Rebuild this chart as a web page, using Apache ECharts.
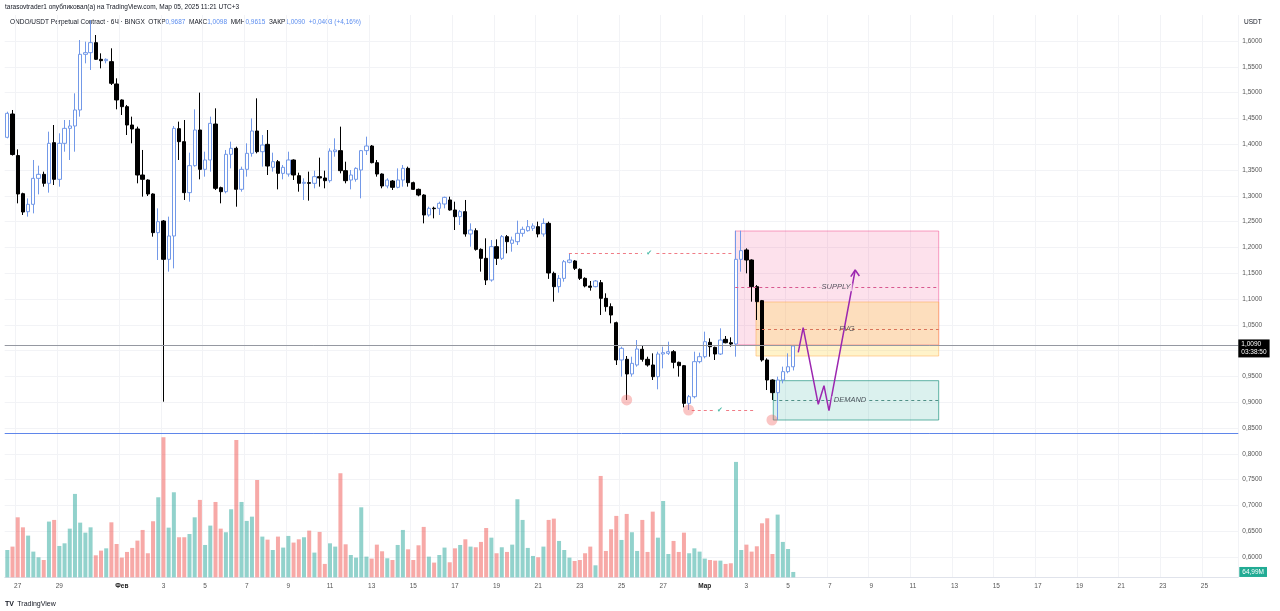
<!DOCTYPE html>
<html><head><meta charset="utf-8">
<script src="https://cdn.jsdelivr.net/npm/echarts@6/dist/echarts.min.js"></script>
<style>html,body{margin:0;padding:0;background:#fff}#c{width:1280px;height:611px}</style>
</head><body><div id="c"></div>
<script>
// 6-hour candles, first candle 2025-01-26 12:00
const slotCount = 237;
const startTime = Date.UTC(2025, 0, 26, 12);
const categories = [];
for (let k = 0; k < slotCount; k++) {
  categories.push(new Date(startTime + k * 6 * 3600e3).toISOString().slice(0, 16).replace('T', ' '));
}
const opens = [1.4133,1.4585,1.3780,1.3041,1.2692,1.2835,1.3338,1.3416,1.3242,1.4030,
1.3319,1.4017,1.4307,1.4353,1.4663,1.5742,1.5774,1.5968,1.5645,1.5619,
1.5600,1.5167,1.4857,1.4727,1.4372,1.4295,1.3403,1.3306,1.3035,1.2286,
1.2512,1.1769,1.2221,1.4301,1.4049,1.3061,1.3584,1.4275,1.3513,1.3694,
1.4391,1.3158,1.3080,1.3804,1.3920,1.3126,1.3513,1.3823,1.4256,1.3855,
1.3997,1.3552,1.3661,1.3435,1.3422,1.3694,1.3390,1.3242,1.3255,1.3242,
1.3371,1.3345,1.3293,1.3855,1.3875,1.3487,1.3306,1.3319,1.3500,1.3875,
1.3965,1.3642,1.3422,1.3190,1.3287,1.3164,1.3306,1.3532,1.3255,1.3125,
1.3015,1.2628,1.2760,1.2757,1.2841,1.2919,1.2725,1.2596,1.2693,1.2260,
1.2324,1.1962,1.1788,1.1368,1.2014,1.1788,1.2208,1.2079,1.2111,1.2273,
1.2324,1.2370,1.2402,1.2260,1.2466,1.1497,1.1239,1.1400,1.1711,1.1737,
1.1575,1.1400,1.1252,1.1239,1.1317,1.1013,1.0852,1.0541,0.9818,0.9831,
0.9547,0.9721,1.0025,0.9831,0.9721,0.9495,0.9934,0.9947,0.9979,0.9773,
0.9708,0.8978,0.9107,0.9786,0.9882,1.0160,1.0063,0.9934,1.0218,1.0153,
1.0128,1.1769,1.1950,1.1756,1.1239,1.0968,0.9818,0.9430,0.9185,0.9430,
0.9592,0.9687];
const closes = [1.4598,1.3800,1.3035,1.2686,1.2835,1.3338,1.3416,1.3242,1.4017,1.3319,
1.4017,1.4307,1.4353,1.4663,1.5742,1.5774,1.5968,1.5645,1.5619,1.5645,
1.5180,1.4857,1.4727,1.4372,1.4295,1.3403,1.3319,1.3035,1.2286,1.2499,
1.1769,1.2221,1.4307,1.4049,1.3061,1.3584,1.4275,1.3513,1.3694,1.4404,
1.3145,1.3080,1.3804,1.3920,1.3126,1.3513,1.3823,1.4256,1.3855,1.3984,
1.3577,1.3661,1.3435,1.3552,1.3694,1.3403,1.3242,1.3261,1.3242,1.3371,
1.3345,1.3293,1.3868,1.3888,1.3487,1.3293,1.3403,1.3532,1.3875,1.3965,
1.3642,1.3422,1.3190,1.3306,1.3164,1.3306,1.3532,1.3255,1.3125,1.3015,
1.2628,1.2757,1.2750,1.2854,1.2970,1.2725,1.2596,1.2693,1.2260,1.2337,
1.1962,1.1788,1.1368,1.2014,1.1788,1.2208,1.2111,1.2143,1.2273,1.2350,
1.2402,1.2415,1.2260,1.2466,1.1504,1.1239,1.1400,1.1723,1.1756,1.1595,
1.1400,1.1252,1.1226,1.1349,1.1013,1.0852,1.0690,0.9818,1.0044,0.9547,
0.9753,1.0031,0.9831,0.9721,0.9495,0.9934,0.9960,0.9979,0.9773,0.9708,
0.8978,0.9107,0.9786,0.9882,1.0173,1.0076,0.9934,1.0205,1.0153,1.0128,
1.1769,1.1937,1.1756,1.1239,1.0948,0.9818,0.9430,0.9185,0.9430,0.9592,
0.9687,1.0090];
const highs = [1.4630,1.4663,1.3900,1.3060,1.2950,1.3694,1.3584,1.3468,1.4243,1.4372,
1.4211,1.4469,1.4469,1.4986,1.6019,1.5987,1.6400,1.6116,1.5761,1.5664,
1.5858,1.5277,1.4870,1.4760,1.4534,1.4340,1.3888,1.3319,1.3048,1.2757,
1.2531,1.2596,1.4353,1.4437,1.4469,1.3836,1.4676,1.4999,1.3855,1.4534,
1.4695,1.3177,1.3888,1.4049,1.3952,1.3565,1.4017,1.4501,1.4889,1.4178,
1.4275,1.3836,1.3694,1.3597,1.3855,1.3707,1.3448,1.3339,1.3468,1.3487,
1.3739,1.3487,1.3920,1.4114,1.4340,1.3661,1.3500,1.3552,1.3888,1.4146,
1.3984,1.3694,1.3435,1.3339,1.3306,1.3532,1.3597,1.3565,1.3274,1.3140,
1.3030,1.2789,1.2789,1.2886,1.2983,1.2983,1.2886,1.2725,1.2919,1.2466,
1.2370,1.1982,1.2176,1.2143,1.2156,1.2240,1.2240,1.2208,1.2518,1.2402,
1.2531,1.2466,1.2499,1.2563,1.2499,1.1530,1.1465,1.1756,1.1885,1.1756,
1.1594,1.1420,1.1349,1.1368,1.1368,1.1110,1.0916,1.0561,1.0076,0.9895,
0.9882,1.0205,1.0108,0.9882,0.9947,0.9979,1.0076,1.0173,1.0011,0.9786,
0.9721,0.9140,0.9979,0.9960,1.0367,1.0238,1.0076,1.0432,1.0283,1.0257,
1.2324,1.2324,1.1982,1.1769,1.1271,1.0981,0.9850,0.9443,0.9495,0.9689,
0.9947,1.0098];
const lows = [1.4114,1.3780,1.2854,1.2628,1.2596,1.2660,1.3028,1.3177,1.3061,1.3209,
1.3177,1.3855,1.3694,1.3855,1.4534,1.5567,1.5438,1.5632,1.5470,1.5567,
1.5147,1.4676,1.4566,1.4178,1.4017,1.3242,1.2983,1.2996,1.2208,1.1756,
0.9010,1.1530,1.1594,1.3694,1.2919,1.2886,1.3565,1.3319,1.3371,1.3468,
1.3112,1.2854,1.3048,1.3532,1.2789,1.3080,1.3371,1.3759,1.3823,1.3565,
1.3403,1.3468,1.3125,1.3319,1.3371,1.3306,1.3080,1.2919,1.2906,1.3145,
1.3177,1.3145,1.3255,1.3758,1.3435,1.3242,1.3125,1.3274,1.2951,1.3791,
1.3629,1.3371,1.3145,1.3145,1.3113,1.3145,1.3177,1.3177,1.3113,1.2990,
1.2466,1.2596,1.2563,1.2628,1.2757,1.2712,1.2337,1.2434,1.2208,1.2014,
1.1937,1.1530,1.1271,1.1336,1.1659,1.1756,1.1885,1.1917,1.2046,1.2208,
1.2305,1.2320,1.2195,1.2208,1.1390,1.0948,1.1123,1.1336,1.1692,1.1562,
1.1368,1.1226,1.1162,1.1226,1.0690,1.0755,1.0528,0.9721,0.9495,0.9043,
0.9495,0.9689,0.9786,0.9689,0.9430,0.9250,0.9656,0.9915,0.9656,0.9495,
0.8900,0.8849,0.9075,0.9753,0.9850,0.9882,0.9818,0.9915,1.0141,1.0076,
0.9882,1.1530,1.1498,1.0948,1.0593,0.9786,0.9236,0.9043,0.8655,0.9365,
0.9560,0.9615];
// volume, millions
const volumes = [333,374,731,609,508,313,244,211,679,699,
382,414,593,1016,666,544,609,268,325,353,
670,406,240,309,358,447,577,293,683,975,
1706,605,1036,488,488,528,731,943,394,630,
918,593,549,829,1674,918,687,739,1186,496,
459,333,496,362,504,423,463,488,569,301,
553,163,414,374,1268,402,272,240,853,252,
228,398,317,232,211,394,577,341,211,390,
614,252,179,272,362,183,353,394,463,374,
366,431,601,483,293,366,309,398,951,699,
358,260,244,374,699,715,443,333,240,199,
211,293,374,146,1235,321,585,748,455,772,
549,321,699,309,800,483,930,284,443,309,
544,293,353,313,228,211,203,203,163,171,
1406,333,398,313,378,658,719,284,764,431,
345,65];
const tickDates = ['2025-01-27','2025-01-29','2025-02-01','2025-02-03','2025-02-05','2025-02-07','2025-02-09','2025-02-11','2025-02-13','2025-02-15','2025-02-17','2025-02-19','2025-02-21','2025-02-23','2025-02-25','2025-02-27','2025-03-01','2025-03-03','2025-03-05','2025-03-07','2025-03-09','2025-03-11','2025-03-13','2025-03-15','2025-03-17','2025-03-19','2025-03-21','2025-03-23','2025-03-25'];
const tickLabels = ['27','29','Фев','3','5','7','9','11','13','15','17','19','21','23','25','27','Мар','3','5','7','9','11','13','15','17','19','21','23','25'];
const monthLabels = ['Фев','Мар'];
// annotations (x in 6h-slot units, y in price)
const supplyBox = [[139.86, 1.2318], [178.94, 1.0110]];
const fvgBox = [[143.84, 1.0942], [178.94, 0.9895]];
const demandBox = [[147.16, 0.9417], [178.94, 0.8655]];
const supplyMid = 1.1227, fvgMid = 1.0419, demandMid = 0.9037;
const projPath = [[151.96, 0.9967], [152.9, 1.0444], [155.8, 0.8959], [156.9, 0.9320], [157.86, 0.8835], [162.9, 1.1562]];
const arrowHead = [[162.05, 1.1432], [162.9, 1.1562], [163.7, 1.1446]];
const lowMarks = [[119.0, 0.9043], [130.9, 0.8849], [146.9, 0.8655]];
const sweepHigh = {y: 1.1886, from: 107.9, to: 139.4, check: 123.3};
const sweepLow = {y: 0.8849, from: 131.5, to: 143.6, check: 136.9};
const lastPrice = 1.0090, horizLevel = 0.8405;
const lastVolumeText = '64,99M';

const tickMap = {};
tickDates.forEach((d, i) => { tickMap[d + ' 00:00'] = tickLabels[i]; });
const isTick = (i, v) => Object.prototype.hasOwnProperty.call(tickMap, v);
const fmt = v => v.toFixed(4).replace('.', ',');
const ohlc = opens.map((o, i) => [o, closes[i], lows[i], highs[i]]);
const volData = volumes.map((v, i) => ({value: v, itemStyle: {color: closes[i] >= opens[i] ? 'rgba(38,166,154,0.5)' : 'rgba(239,83,80,0.5)'}}));
const FONT = 'Liberation Sans, Arial, DejaVu Sans, sans-serif';

const dash = (x1, x2, y, color) => [{coord: [x1, y], lineStyle: {color: color, type: [3, 3], width: 1}}, {coord: [x2, y]}];

const chart = echarts.init(document.getElementById('c'), null, {renderer: 'canvas'});
chart.setOption({
  animation: false,
  backgroundColor: '#ffffff',
  textStyle: {fontFamily: FONT},
  grid: [
    {left: 4.7, right: 41.7, top: 41, bottom: 54},
    {left: 4.7, right: 41.7, top: 15, bottom: 33.7}
  ],
  xAxis: [
    {type: 'category', gridIndex: 0, data: categories, show: false},
    {type: 'category', gridIndex: 1, data: categories,
      axisLine: {show: true, lineStyle: {color: '#e0e3eb'}}, axisTick: {show: false},
      axisLabel: {interval: isTick, fontSize: 6.5, color: '#555', margin: 5,
        formatter: v => { const t = tickMap[v] || ''; return monthLabels.indexOf(t) >= 0 ? '{b|' + t + '}' : t; },
        rich: {b: {fontWeight: 'bold', fontSize: 6.5, color: '#222'}}},
      splitLine: {show: true, interval: isTick, lineStyle: {color: '#f2f3f6', width: 1}}},
    {type: 'value', gridIndex: 0, min: -0.5, max: slotCount - 0.5, show: false}
  ],
  yAxis: [
    {type: 'value', gridIndex: 0, position: 'right', min: 0.6, max: 1.6, interval: 0.05,
      axisLine: {show: false}, axisTick: {show: false},
      axisLabel: {formatter: fmt, fontSize: 6.5, color: '#555', margin: 4},
      splitLine: {lineStyle: {color: '#f2f3f6', width: 1}}},
    {type: 'value', gridIndex: 1, min: 0, max: 6852, show: false}
  ],
  graphic: [
    {type: 'text', left: 5, top: 4, style: {text: 'tarasovtrader1 опубликовал(а) на TradingView.com, Мар 05, 2025 11:21 UTC+3', fill: '#131722', font: '6.5px ' + FONT}},
    {type: 'text', left: 10, top: 18.5, style: {
      text: '{a|ONDO/USDT Perpetual Contract · 6Ч · BINGX}  {a|ОТКР}{b|0,9687}  {a|МАКС}{b|1,0098}  {a|МИН}{b|0,9615}  {a|ЗАКР}{b|1,0090}  {b|+0,0403 (+4,16%)}',
      font: '6.5px ' + FONT,
      rich: {a: {fill: '#131722', fontSize: 6.5, fontFamily: FONT}, b: {fill: '#5b8def', fontSize: 6.5, fontFamily: FONT}}}},
    {type: 'text', left: 1244, top: 18.5, style: {text: 'USDT', fill: '#131722', font: '6.5px ' + FONT}},
    {type: 'text', left: 5, top: 598, style: {text: '{t|TV} {n|TradingView}', rich: {t: {fill: '#131722', fontWeight: 'bold', fontSize: 7, fontFamily: FONT}, n: {fill: '#131722', fontSize: 7, fontFamily: FONT}}}}
  ],
  series: [
    {type: 'bar', name: 'volume', xAxisIndex: 1, yAxisIndex: 1, data: volData, barWidth: 4, z: 1, silent: true,
      markLine: {symbol: 'none', silent: true, data: [{yAxis: volumes[volumes.length - 1], lineStyle: {color: 'rgba(0,0,0,0)', width: 0},
        label: {show: true, position: 'end', distance: 1, formatter: lastVolumeText, backgroundColor: '#22ab94', color: '#ffffff', fontSize: 6.5, padding: [1.5, 3]}}]}},
    {type: 'candlestick', name: 'ONDO', xAxisIndex: 0, yAxisIndex: 0, data: ohlc, barWidth: 3.8, clip: false, z: 3,
      itemStyle: {color: '#ffffff', color0: '#000000', borderColor: '#7399e8', borderColor0: '#000000', borderWidth: 1},
      markLine: {symbol: 'none', silent: true, data: [
        {yAxis: lastPrice, lineStyle: {color: '#9598a1', width: 1, type: 'solid'},
          label: {show: true, position: 'end', distance: 0, formatter: fmt(lastPrice) + '\n03:38:50', backgroundColor: '#000', color: '#fff', fontSize: 6.5, lineHeight: 7.5, padding: [2, 3, 1, 3], offset: [0, 3]}},
        {yAxis: horizLevel, lineStyle: {color: '#5f86ea', width: 1, type: 'solid'}, label: {show: false}}
      ]}},
    {type: 'line', name: 'projection', xAxisIndex: 2, yAxisIndex: 0, data: projPath, symbol: 'none', z: 6,
      lineStyle: {color: '#9c27b0', width: 1.5}, silent: true,
      markArea: {silent: true, data: [
        [{coord: supplyBox[0], itemStyle: {color: 'rgba(242,54,127,0.15)', borderColor: 'rgba(242,54,127,0.45)', borderWidth: 1}}, {coord: supplyBox[1]}],
        [{coord: fvgBox[0], itemStyle: {color: 'rgba(255,214,80,0.30)', borderColor: 'rgba(255,170,80,0.5)', borderWidth: 1}}, {coord: fvgBox[1]}],
        [{coord: demandBox[0], itemStyle: {color: 'rgba(34,171,148,0.16)', borderColor: 'rgba(34,150,130,0.7)', borderWidth: 1}}, {coord: demandBox[1]}]
      ]},
      markLine: {symbol: ['none', 'none'], silent: true, label: {show: false}, data: [
        dash(supplyBox[0][0], supplyBox[1][0], supplyMid, '#d8588f'),
        dash(fvgBox[0][0], fvgBox[1][0], fvgMid, '#d9745a'),
        dash(demandBox[0][0], demandBox[1][0], demandMid, '#4f8f86'),
        dash(sweepHigh.from, sweepHigh.check - 1.4, sweepHigh.y, '#f07c86'),
        dash(sweepHigh.check + 1.4, sweepHigh.to, sweepHigh.y, '#f07c86'),
        dash(sweepLow.from, sweepLow.check - 1.2, sweepLow.y, '#f07c86'),
        dash(sweepLow.check + 1.2, sweepLow.to, sweepLow.y, '#f07c86')
      ]}},
    {type: 'line', name: 'arrow', xAxisIndex: 2, yAxisIndex: 0, data: arrowHead, symbol: 'none', z: 6, silent: true,
      lineStyle: {color: '#9c27b0', width: 1.5}},
    {type: 'scatter', name: 'lows', xAxisIndex: 2, yAxisIndex: 0, data: lowMarks, symbolSize: 11, z: 5, silent: true,
      itemStyle: {color: 'rgba(239,83,80,0.42)'}},
    {type: 'scatter', name: 'labels', xAxisIndex: 2, yAxisIndex: 0, symbolSize: 1, z: 7, silent: true,
      itemStyle: {color: 'rgba(0,0,0,0)'},
      label: {show: true, position: 'inside', fontSize: 7.5, fontStyle: 'italic', color: '#2a2e39'},
      data: [
        {value: [159.2, supplyMid], label: {formatter: 'SUPPLY', backgroundColor: '#fbe1ec', padding: [0, 2]}},
        {value: [161.3, fvgMid], label: {formatter: 'FVG'}},
        {value: [161.9, demandMid], label: {formatter: 'DEMAND', backgroundColor: '#dbf1ed', padding: [0, 2]}},
        {value: [sweepHigh.check, sweepHigh.y], label: {formatter: '✔', fontStyle: 'normal', color: '#22ab94', fontSize: 7, fontFamily: 'DejaVu Sans'}},
        {value: [sweepLow.check, sweepLow.y], label: {formatter: '✔', fontStyle: 'normal', color: '#22ab94', fontSize: 7, fontFamily: 'DejaVu Sans'}}
      ]}
  ]
});
</script></body></html>
